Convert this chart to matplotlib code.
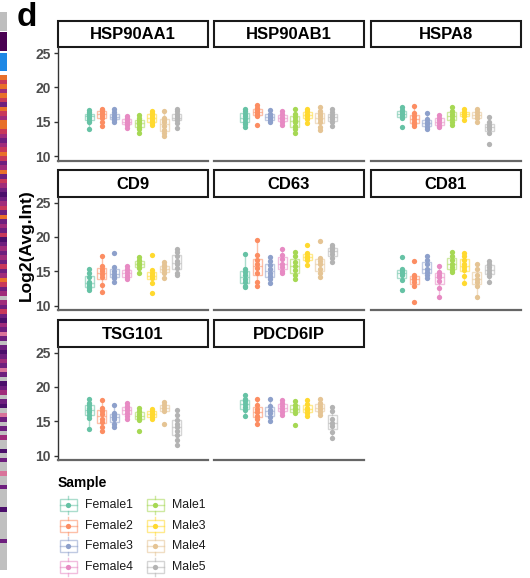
import matplotlib.pyplot as plt
import matplotlib.patches as mpatches

W, H = 530, 578

genes = ["HSP90AA1", "HSP90AB1", "HSPA8", "CD9", "CD63", "CD81", "TSG101", "PDCD6IP"]
samples = ["Female1", "Female2", "Female3", "Female4", "Male1", "Male3", "Male4", "Male5"]
colors = ["#66C2A5", "#FC8D62", "#8DA0CB", "#E78AC3", "#A6D854", "#FFD92F", "#E5C494", "#B3B3B3"]

# log2 intensities, one list per sample (same order as samples)
hsp90aa1 = [[16.7, 16.4, 16.2, 16.0, 15.8, 15.5, 15.2, 14.9, 14.0],
            [16.9, 16.7, 16.5, 16.3, 16.1, 15.8, 15.5, 15.0, 14.4],
            [16.8, 16.4, 16.0, 15.7, 15.5, 15.3, 15.0],
            [15.9, 15.6, 15.3, 15.0, 14.8, 14.5, 14.1],
            [16.0, 15.6, 15.2, 14.9, 14.6, 14.3, 13.9, 13.3],
            [16.6, 16.3, 16.0, 15.7, 15.4, 15.1, 14.8, 14.5],
            [16.5, 15.5, 15.3, 14.9, 14.4, 13.8, 13.3, 12.9],
            [16.9, 16.6, 16.2, 15.8, 15.6, 15.4, 15.2, 14.8, 14.1]]
hsp90ab1 = [[16.9, 16.5, 16.2, 15.8, 15.4, 15.0, 14.6, 14.3],
            [17.4, 17.0, 16.7, 16.4, 16.1, 15.8, 14.5],
            [16.7, 16.2, 15.8, 15.5, 15.2, 14.9],
            [16.5, 16.1, 15.7, 15.4, 15.0, 14.5],
            [16.8, 16.2, 15.7, 15.3, 14.9, 14.4, 13.9, 13.4],
            [16.9, 16.5, 16.1, 15.8, 15.4, 14.8],
            [17.1, 16.6, 16.2, 15.8, 15.4, 15.0, 14.3, 13.8],
            [16.9, 16.4, 16.0, 15.7, 15.4, 14.9, 14.4]]
hspa8 = [[17.1, 16.7, 16.4, 16.1, 15.8, 15.5, 14.3],
         [17.3, 16.3, 15.8, 15.4, 15.0, 14.7, 14.4],
         [16.3, 15.4, 15.0, 14.7, 14.3, 13.9],
         [16.0, 15.6, 15.2, 14.8, 14.4, 14.2],
         [17.1, 16.6, 16.2, 15.8, 15.4, 15.0, 14.5],
         [16.8, 16.4, 16.1, 15.8, 15.2],
         [16.8, 16.4, 16.0, 15.6, 15.0],
         [15.7, 14.9, 14.5, 14.2, 13.9, 13.4, 11.7]]
cd9 = [[15.3, 14.8, 14.2, 13.5, 13.2, 12.8, 12.5, 12.2],
       [17.2, 15.8, 15.4, 15.0, 14.6, 14.2, 13.0, 12.0],
       [17.7, 15.6, 15.0, 14.6, 14.3, 14.0, 13.4],
       [15.7, 15.3, 14.9, 14.5, 14.1, 13.9],
       [17.1, 16.6, 16.2, 15.9, 15.5, 14.7],
       [17.3, 15.2, 14.8, 14.5, 14.2, 14.0, 13.3, 11.8],
       [16.3, 15.9, 15.6, 15.2, 14.7, 14.0],
       [18.3, 17.8, 17.2, 16.5, 16.0, 15.5, 14.8, 14.5]]
cd63 = [[17.5, 15.4, 14.9, 14.4, 13.9, 13.4, 12.9, 12.7],
        [19.5, 17.4, 16.6, 16.0, 15.5, 14.7, 13.5, 12.8],
        [17.1, 16.5, 15.9, 15.3, 14.8, 14.3, 13.8, 13.3],
        [18.2, 17.3, 16.8, 16.0, 15.6, 15.1, 14.7],
        [17.8, 17.2, 16.4, 15.8, 15.2, 14.4, 13.8],
        [18.9, 17.6, 17.2, 16.9, 16.6, 15.9],
        [19.4, 17.0, 16.5, 16.0, 15.4, 14.8, 14.2],
        [18.8, 18.5, 18.2, 17.9, 17.5, 17.0, 16.4]]
cd81 = [[17.1, 15.4, 15.0, 14.7, 14.4, 13.7, 12.2],
        [16.5, 14.4, 14.1, 13.8, 13.4, 12.9, 10.5],
        [17.2, 16.6, 16.0, 15.4, 14.9, 14.5, 14.0],
        [15.7, 14.9, 14.5, 14.1, 13.6, 12.6, 11.2],
        [17.8, 17.2, 16.6, 16.1, 15.6, 15.2, 14.9],
        [17.7, 17.2, 16.7, 16.0, 15.6, 15.2, 14.3, 13.3],
        [16.1, 15.3, 14.5, 13.9, 13.5, 12.9, 11.3],
        [16.5, 16.1, 15.6, 15.2, 14.8, 14.3, 13.4]]
tsg101 = [[18.2, 17.7, 17.3, 17.0, 16.7, 16.3, 15.9, 15.5, 13.9],
          [18.1, 17.0, 16.5, 16.0, 15.4, 14.9, 14.1, 13.6],
          [17.4, 16.2, 15.9, 15.6, 15.3, 14.6, 14.2],
          [17.6, 17.2, 16.9, 16.6, 16.2, 15.8, 15.3],
          [17.0, 16.5, 16.1, 15.8, 15.5, 15.2, 13.6],
          [16.8, 16.5, 16.2, 15.9, 15.6, 15.3],
          [17.8, 17.3, 16.9, 16.5, 14.6],
          [16.6, 15.9, 15.2, 14.6, 14.1, 13.6, 13.0, 12.3, 11.6]]
pdcd6ip = [[18.9, 18.3, 17.9, 17.5, 17.1, 16.6, 15.7],
           [18.3, 17.4, 16.8, 16.3, 15.8, 15.3, 14.6],
           [18.3, 17.2, 16.7, 16.2, 15.6, 15.1],
           [18.1, 17.6, 17.2, 16.8, 16.4, 15.9],
           [18.0, 17.4, 17.0, 16.6, 16.2, 14.5],
           [18.1, 17.5, 17.0, 16.6, 16.2, 15.7],
           [18.3, 17.7, 17.2, 16.8, 16.4, 15.9],
           [17.1, 16.5, 15.3, 14.8, 14.3, 13.5, 12.6]]
gene_data = [hsp90aa1, hsp90ab1, hspa8, cd9, cd63, cd81, tsg101, pdcd6ip]
y_ticks = [10, 15, 20, 25]

# heatmap strip from the neighbouring panel, one code per band
strip_codes = ("oromorpormoormpmrorpmo"
               "prmpdpmrpopmprdpmpmprp"
               "morpmgmprpdmpkpgpdpmpk"
               "pgdpmgpdgkpgpgmggdgpgg"
               "kggpggggdggggggpgggggg")
strip_cols = {"o": "#E8702A", "r": "#C8385A", "m": "#A02C7A", "p": "#6E1F7E",
              "d": "#4B0F6B", "g": "#C0C0C0", "k": "#D9739A"}

plt.rcParams["font.family"] = ["Liberation Sans", "DejaVu Sans"]

fig = plt.figure(figsize=(W / 100, H / 100), dpi=100)


def px_axes(x, y, w, h):
    return fig.add_axes([x / W, 1 - (y + h) / H, w / W, h / H])


col_x = [58, 213.5, 370.5]
panel_w = 150
strip_top = [20.5, 170, 320]
strip_h = 26.5
panel_h = 113.5
n = len(samples)
offsets = [1 + (i - (n - 1) / 2) * 0.8 / n for i in range(n)]

for g, (name, data) in enumerate(zip(genes, gene_data)):
    r, c = divmod(g, 3)
    x0 = col_x[c]
    # strip
    sax = px_axes(x0, strip_top[r], panel_w, strip_h)
    sax.set_xlim(0, 1)
    sax.set_ylim(0, 1)
    sax.axis("off")
    sax.add_patch(mpatches.Rectangle((0, 0), 1, 1, facecolor="white", edgecolor="#1A1A1A",
                                     lw=1.5, transform=sax.transAxes, clip_on=False))
    sax.text(0.5, 0.47, name, ha="center", va="center", fontsize=12, fontweight="bold")

    ax = px_axes(x0, strip_top[r] + strip_h, panel_w, panel_h)
    for i, vals in enumerate(data):
        bp = ax.boxplot(vals, positions=[offsets[i]], widths=0.075, showfliers=False,
                        patch_artist=True, manage_ticks=False)
        for part in ("boxes", "whiskers", "caps", "medians"):
            for art in bp[part]:
                if part == "boxes":
                    art.set_facecolor("none")
                    art.set_edgecolor(colors[i])
                else:
                    art.set_color(colors[i])
                art.set_alpha(0.55)
                art.set_linewidth(1.0)
        for cap in bp["caps"]:
            cap.set_visible(False)
        ax.plot([offsets[i]] * len(vals), vals, "o", color=colors[i], ms=3.8, mec="none")
    ax.set_xlim(0.4, 1.6)
    ax.set_ylim(9.35, 25.9)
    ax.set_xticks([])
    ax.set_yticks(y_ticks)
    for side in ("top", "right"):
        ax.spines[side].set_visible(False)
    ax.spines["bottom"].set_color("#666666")
    ax.spines["bottom"].set_linewidth(1.6)
    if c == 0:
        ax.spines["left"].set_color("#333333")
        ax.spines["left"].set_linewidth(1.0)
        ax.tick_params(axis="y", length=3, width=1, color="#333333", pad=2,
                       labelsize=10, labelcolor="#4D4D4D")
        for lab in ax.get_yticklabels():
            lab.set_fontweight("bold")
    else:
        ax.spines["left"].set_visible(False)
        ax.tick_params(axis="y", length=0, labelleft=False)
    ax.patch.set_alpha(0)

# overlay for texts and legend, pixel coordinates
ov = px_axes(0, 0, W, H)
ov.set_xlim(0, W)
ov.set_ylim(H, 0)
ov.axis("off")
ov.patch.set_alpha(0)

ov.text(27, 17, "d", ha="center", va="center", fontsize=24, fontweight="bold")
ov.text(26, 245, "Log2(Avg.Int)", rotation=90, ha="center", va="center",
        fontsize=12.5, fontweight="bold")

# left heatmap strip
ov.add_patch(mpatches.Rectangle((0, 12), 7.3, 19, color="#BEBEBE", lw=0))
ov.add_patch(mpatches.Rectangle((0, 32), 7.3, 19, color="#4A0152", lw=0))
ov.add_patch(mpatches.Rectangle((0, 53), 7.3, 18, color="#1E88E5", lw=0))
for k, code in enumerate(strip_codes):
    ov.add_patch(mpatches.Rectangle((0, 75 + 4.5 * k), 7.3, 4.5, color=strip_cols[code], lw=0))

# legend
ov.text(58, 483, "Sample", ha="left", va="center", fontsize=10, fontweight="bold")
leg_rows = [505, 526, 546, 567]
for i, (s, col) in enumerate(zip(samples, colors)):
    kx = 60 if i < 4 else 147
    ky = leg_rows[i % 4]
    ov.add_patch(mpatches.Rectangle((kx, ky - 6), 16.5, 12, facecolor="none", edgecolor=col,
                                    lw=1.0, alpha=0.55))
    cx = kx + 8.25
    ov.plot([kx, kx + 16.5], [ky, ky], color=col, lw=1.0, alpha=0.55)
    ov.plot([cx, cx], [ky - 9, ky - 6], color=col, lw=1.0, alpha=0.55)
    ov.plot([cx, cx], [ky + 6, ky + 9], color=col, lw=1.0, alpha=0.55)
    ov.plot([cx], [ky], "o", color=col, ms=3.8, mec="none")
    ov.text(kx + 25, ky, s, ha="left", va="center", fontsize=8.8, color="#1A1A1A")

fig.savefig("out.png", dpi=100)
